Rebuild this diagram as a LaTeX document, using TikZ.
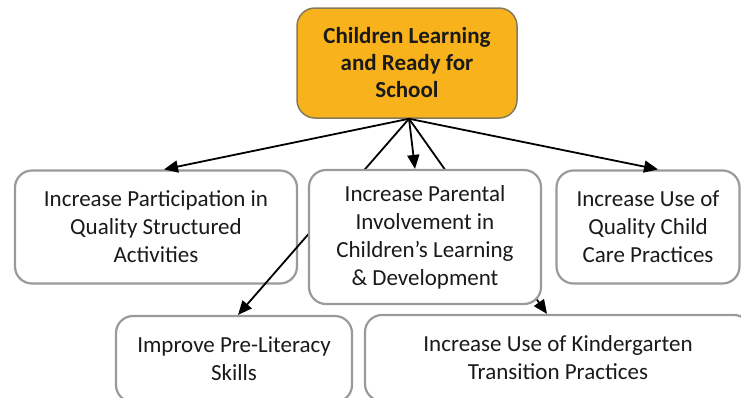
\documentclass[tikz,border=0pt]{standalone}
\usepackage{fontspec}
\setmainfont{Carlito}
\usetikzlibrary{arrows.meta}
\definecolor{boxgray}{HTML}{9A9A9A}
\definecolor{toporange}{HTML}{F8B31C}
\definecolor{topborder}{HTML}{857A5C}
\definecolor{textdark}{HTML}{1A1A1A}
\begin{document}
\begin{tikzpicture}[x=1pt,y=-1pt,
  box/.style={draw=boxgray, line width=2.2pt, fill=white, rounded corners=17pt,
    align=center, text=textdark, font=\fontsize{23}{28}\selectfont, inner sep=0pt},
  topbox/.style={draw=topborder, line width=1.5pt, fill=toporange, rounded corners=18pt,
    align=center, text=textdark, font=\bfseries\fontsize{23}{27}\selectfont, inner sep=0pt},
  arr/.style={-{Triangle[length=14pt,width=12pt]}, line width=1.8pt, black}]
\useasboundingbox (0,0) rectangle (741,397);
\clip (0,0) rectangle (741,397);
\node[topbox, minimum width=220pt, minimum height=110pt] (top) at (407,63)
  {Children Learning\\and Ready for\\School};
\node[box, minimum width=282pt, minimum height=113pt] (left) at (156,227)
  {Increase Participation in\\Quality Structured\\Activities};
\node[box, minimum width=183pt, minimum height=113pt] (right) at (648,227)
  {Increase Use of\\Quality Child\\Care Practices};
\node[box, minimum width=236pt, minimum height=86pt] (bl) at (234,359)
  {Improve Pre-Literacy\\Skills};
\node[box, minimum width=386pt, minimum height=86pt] (kg) at (558,358)
  {Increase Use of Kindergarten\\Transition Practices};
% connectors passing behind the middle box
\draw[arr] ([xshift=2pt]top.south) -- ([xshift=4pt]bl.north);
\draw[arr] ([xshift=2pt]top.south) -- ([xshift=-11pt]kg.north);
\node[box, minimum width=232pt, minimum height=134pt] (mid) at (425,237)
  {Increase Parental\\Involvement in\\Children’s Learning\\\& Development};
\draw[arr] ([xshift=2pt]top.south) -- ([xshift=8pt]left.north);
\draw[arr] ([xshift=2pt]top.south) -- ([xshift=-10pt]mid.north);
\draw[arr] ([xshift=2pt]top.south) -- ([xshift=10pt]right.north);
\end{tikzpicture}
\end{document}
